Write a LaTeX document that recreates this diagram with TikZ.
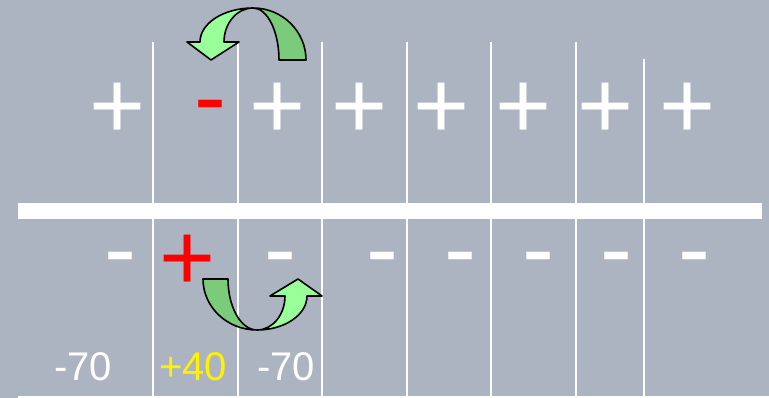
\documentclass[tikz,border=0pt]{standalone}
\usepackage{fontspec}
\setmainfont{Liberation Sans}
\definecolor{slate}{RGB}{173,180,193}
\definecolor{lightgreen}{RGB}{153,255,153}
\definecolor{darkgreen}{RGB}{122,204,122}
\begin{document}
\begin{tikzpicture}[
  x=0.75pt, y=-0.75pt,
  sign/.style={inner sep=0pt, anchor=base, font=\fontsize{72}{72}\selectfont},
  volt/.style={inner sep=0pt, anchor=base, font=\fontsize{30}{36}\selectfont},
  wall/.style={white, line width=1.5pt},
  band/.style={draw=black, line width=1.2pt, line join=round}
]
\fill[slate] (0,0) rectangle (769,398);
\useasboundingbox (0,0) rectangle (769,398);

% membrane and channels
\foreach \x/\t in {153/42,238/42,322/42,407/42,491/42,576/42,644/59}
  \draw[wall] (\x,\t) -- (\x,398);
\fill[white] (18,203.5) rectangle (762,219.5);
\draw[wall] (18,397) -- (769,397);

% outside charges
\node[sign,white] (out1) at (118,139) {+};
\node[sign,red] (out2) at (210.5,129.6) {-};
\foreach \n/\x in {3/278,4/360,5/442,6/524,7/606,8/688}
  \node[sign,white] (out\n) at (\x,139) {+};

% inside charges
\node[sign,white] (in1) at (120.5,281.6) {-};
\node[sign,red] (in2) at (188,291) {+};
\foreach \n/\x in {3/280.5,4/382.5,5/460.5,6/538.5,7/616.5,8/694.5}
  \node[sign,white] (in\n) at (\x,281.6) {-};

% potentials
\node[volt,white] (v1) at (83,381) {-70};
\node[volt,yellow] (v2) at (193,381) {+40};
\node[volt,white] (v3) at (286,381) {-70};

% upper curved arrow
\draw[band,fill=darkgreen] (306,60)
  arc[start angle=0, end angle=-90, x radius=53, y radius=52]
  arc[start angle=-90, end angle=0, x radius=26, y radius=52] -- cycle;
\draw[band,fill=lightgreen] (253,8)
  arc[start angle=-90, end angle=-180, x radius=53, y radius=34]
  -- (187,42) -- (211,60) -- (239,42) -- (224,42)
  arc[start angle=180, end angle=270, x radius=29, y radius=34] -- cycle;

% lower curved arrow
\draw[band,fill=darkgreen] (203,279)
  arc[start angle=180, end angle=90, x radius=54, y radius=51]
  arc[start angle=90, end angle=180, x radius=29, y radius=51] -- cycle;
\draw[band,fill=lightgreen] (257,330)
  arc[start angle=90, end angle=0, x radius=50, y radius=34]
  -- (322,296) -- (298,279) -- (270,296) -- (285,296)
  arc[start angle=0, end angle=90, x radius=28, y radius=34] -- cycle;
\end{tikzpicture}
\end{document}
